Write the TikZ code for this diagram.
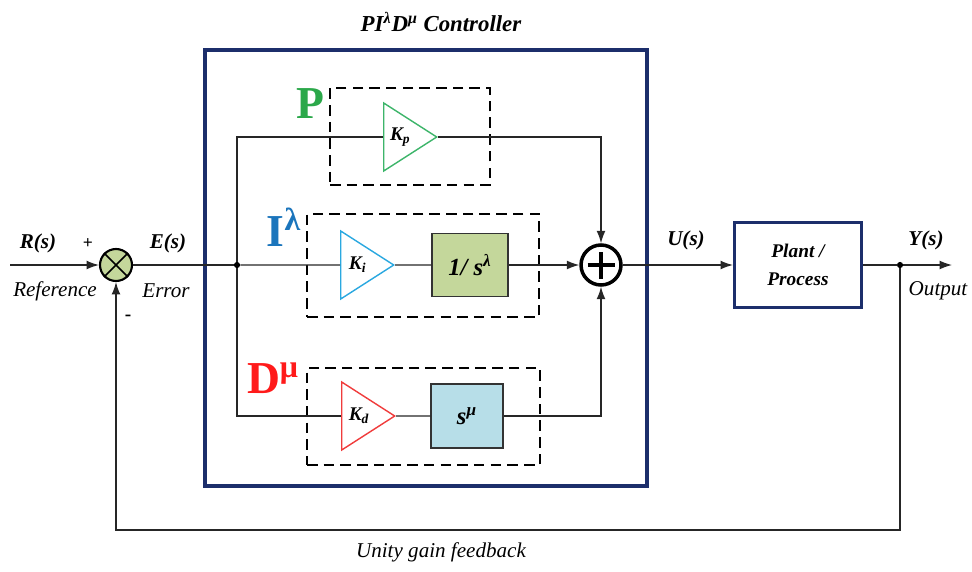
\documentclass[tikz,border=0pt]{standalone}
\usepackage{fontspec}
\setmainfont{Liberation Serif}
\usepackage{xcolor}
\usetikzlibrary{arrows.meta,positioning,shapes.geometric}

\definecolor{navy}{HTML}{1C2E6B}
\definecolor{pgreen}{HTML}{2BA84A}
\definecolor{iblue}{HTML}{1B75BC}
\definecolor{dred}{HTML}{FF1A1A}
\definecolor{kpgreen}{HTML}{3DB56A}
\definecolor{kiblue}{HTML}{2AA8E0}
\definecolor{kdred}{HTML}{F03C3C}
\definecolor{intfill}{HTML}{C4D79B}
\definecolor{derfill}{HTML}{B7DEE8}

\begin{document}
\begin{tikzpicture}[
    x=0.02cm, y=-0.02cm,
    every node/.style={font=\fontsize{12}{14}\selectfont\bfseries\itshape},
    sig/.style={draw=black!85, line width=0.7pt},
    arr/.style={sig, -{Latex[length=7pt,width=5pt]}},
    gain/.style={draw, isosceles triangle, isosceles triangle apex angle=65, isosceles triangle stretches,
        fill=white, line width=0.8pt, minimum width=1.36cm, minimum height=1.06cm, inner sep=0pt,
        font=\fontsize{11}{13}\selectfont\bfseries\itshape},
    tfbox/.style={draw=black!80, line width=0.8pt, minimum width=1.52cm, minimum height=1.26cm,
        font=\fontsize{14}{16}\selectfont\bfseries\itshape},
    part/.style={draw, line width=1.2pt, dash pattern=on 6pt off 3.5pt},
    blk/.style={draw=navy, line width=2pt},
    sumx/.style={circle, draw, line width=1.2pt, minimum size=0.64cm, fill=intfill},
    sumplus/.style={circle, draw, line width=2pt, minimum size=0.8cm, fill=white},
    lbl/.style={font=\fontsize{12}{14}\selectfont\itshape},
    big/.style={font=\fontsize{26}{28}\selectfont\bfseries},
    dot/.style={circle, fill=black, inner sep=0pt, minimum size=3.5pt}
]
\useasboundingbox (0,0) rectangle (972,571);

% controller frame and title
\node[blk, line width=2.4pt, minimum width=8.84cm, minimum height=8.72cm] (ctrl) at (426,268) {};
\node[font=\fontsize{13}{15}\selectfont\bfseries\itshape] (title) at (441,22) {PI\textsuperscript{λ}D\textsuperscript{μ} Controller};

% dashed parts
\node[part, minimum width=3.2cm, minimum height=1.94cm] (pbox) at (410,136.5) {};
\node[part, minimum width=4.64cm, minimum height=2.06cm] (ibox) at (423,265.5) {};
\node[part, minimum width=4.66cm, minimum height=1.94cm] (dbox) at (423.5,416.5) {};
\node[big, text=pgreen] (plbl) at (310,104) {P};
\node[big, text=iblue] (ilbl) at (284,227) {I\textsuperscript{λ}};
\node[big, text=dred] (dlbl) at (273,378) {D\textsuperscript{μ}};

% blocks
\node[sumx] (sum1) at (116,265) {};
\draw[line width=1pt] (sum1.north west) -- (sum1.south east) (sum1.north east) -- (sum1.south west);
\node[dot] (split) at (237,265) {};
\node[gain, draw=kpgreen, anchor=west] (kp) at (383,137) {K\textsubscript{p}};
\node[gain, draw=kiblue, anchor=west] (ki) at (340,265) {K\textsubscript{i}};
\node[gain, draw=kdred, anchor=west] (kd) at (341,416) {K\textsubscript{d}};
\node[tfbox, fill=intfill] (int) at (470,265) {1/ s\textsuperscript{λ}};
\node[tfbox, fill=derfill, minimum width=1.44cm, minimum height=1.28cm] (der) at (467,416) {s\textsuperscript{μ}};
\node[sumplus] (sum2) at (601,265) {};
\draw[line width=2.2pt] ([xshift=-0.27cm]sum2.center) -- ([xshift=0.27cm]sum2.center)
    ([yshift=-0.27cm]sum2.center) -- ([yshift=0.27cm]sum2.center);
\node[blk, line width=1.8pt, minimum width=2.54cm, minimum height=1.7cm, align=center,
    font=\fontsize{11}{16}\selectfont\bfseries\itshape] (plant) at (798,265) {Plant /\\Process};
\node[dot] (tap) at (900,265) {};
\coordinate (rin) at (10,265);
\coordinate (yout) at (952,265);
\coordinate (fb) at (900,530);

% signals
\draw[arr] (rin) -- (sum1);
\draw[sig] (sum1) -- (split);
\draw[sig] (split) |- (kp);
\draw[sig] (split) -- (ki);
\draw[sig] (split) |- (kd);
\draw[sig] (ki) -- (int);
\draw[sig] (kd) -- (der);
\draw[arr] (kp) -| (sum2);
\draw[arr] (int) -- (sum2);
\draw[arr] (der) -| (sum2);
\draw[arr] (sum2) -- (plant);
\draw[sig] (plant) -- (tap);
\draw[arr] (tap) -- (yout);
\draw[arr] (tap) -- (fb) -| (sum1);

% labels
\node (rs) at (38,243) {R(s)};
\node[font=\fontsize{10}{12}\selectfont\bfseries] (plus) at (88,244) {+};
\node[lbl] (reflbl) at (55,291) {Reference};
\node (es) at (168,243) {E(s)};
\node[lbl] (errlbl) at (166,291) {Error};
\node[font=\fontsize{11}{12}\selectfont\bfseries] (minus) at (128,318) {-};
\node (us) at (686,240) {U(s)};
\node (ys) at (926,240) {Y(s)};
\node[lbl] (outlbl) at (938,291) {Output};
\node[lbl] (fblbl) at (441,552) {Unity gain feedback};
\end{tikzpicture}
\end{document}
